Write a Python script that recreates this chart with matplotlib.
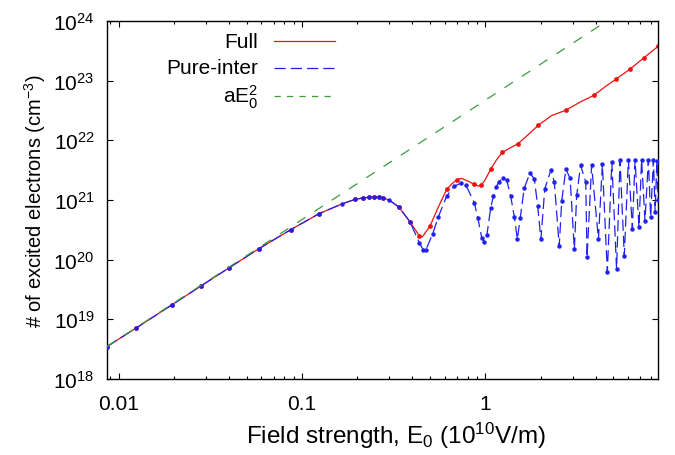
import matplotlib
matplotlib.use("Agg")
import matplotlib.pyplot as plt
from matplotlib.lines import Line2D
from matplotlib.ticker import LogLocator, NullFormatter, FixedLocator, FixedFormatter

plt.rcParams['font.family'] = ['Liberation Sans', 'DejaVu Sans']
plt.rcParams['mathtext.fontset'] = 'custom'
plt.rcParams['mathtext.rm'] = 'Liberation Sans'
plt.rcParams['mathtext.it'] = 'Liberation Sans:italic'
plt.rcParams['mathtext.default'] = 'regular'

# field strength (1e10 V/m) and excited electron density (cm^-3)
full_x = [0.00863, 0.0124, 0.0195, 0.028, 0.040, 0.058, 0.087, 0.124, 0.165, 0.194,
          0.214, 0.231, 0.248, 0.262, 0.276, 0.30, 0.338, 0.388, 0.437, 0.453,
          0.499, 0.555, 0.615, 0.66, 0.703, 0.743, 0.81, 0.871, 0.91, 0.948,
          1.0, 1.07, 1.15, 1.24, 1.37, 1.51, 1.72, 1.95, 2.3, 2.75,
          3.3, 3.92, 4.5, 5.16, 6.17, 7.31, 8.75]
full_y = [3.5e18, 7.1e18, 1.75e19, 3.6e19, 7.3e19, 1.52e20, 3.2e20, 5.9e20, 8.6e20, 1.02e21,
          1.08e21, 1.11e21, 1.13e21, 1.12e21, 1.09e21, 9.9e20, 7.6e20, 4.3e20, 2.5e20, 2.4e20,
          3.65e20, 7.7e20, 1.5e21, 1.9e21, 2.2e21, 2.3e21, 2.05e21, 1.82e21, 1.72e21, 1.75e21,
          2.2e21, 3.3e21, 4.7e21, 6.3e21, 7.5e21, 8.8e21, 1.26e22, 1.8e22, 2.6e22, 3.2e22,
          4.4e22, 5.7e22, 7.9e22, 1.06e23, 1.57e23, 2.4e23, 3.76e23]
full_dots = [0, 1, 2, 3, 4, 5, 6, 7, 9, 10, 11, 12, 13, 14, 16, 17, 18, 20, 22, 24,
             27, 29, 31, 33, 35, 37, 39, 41, 43, 44, 45, 46]

pure_x = [0.00863, 0.0124, 0.0195, 0.028, 0.040, 0.058, 0.087, 0.124, 0.165, 0.194,
          0.214, 0.231, 0.248, 0.262, 0.276, 0.30, 0.338, 0.388, 0.437, 0.459,
          0.474, 0.516, 0.554, 0.615, 0.675, 0.736, 0.785, 0.871, 0.91, 0.955,
          0.988, 1.02, 1.07, 1.106, 1.144, 1.19, 1.244, 1.31, 1.375, 1.44,
          1.495, 1.55, 1.63, 1.75, 1.85, 1.93, 2.01, 2.11, 2.28, 2.38,
          2.53, 2.61, 2.75, 2.90, 3.06, 3.15, 3.31, 3.53, 3.59, 3.80,
          4.14, 4.35, 4.63, 4.90, 5.20, 5.43, 5.73, 6.03, 6.34, 6.56,
          6.89, 7.12, 7.43, 7.75, 7.98, 8.26, 8.44, 8.63, 8.75]
pure_y = [3.5e18, 7.1e18, 1.75e19, 3.6e19, 7.3e19, 1.52e20, 3.2e20, 5.9e20, 8.6e20, 1.02e21,
          1.08e21, 1.11e21, 1.13e21, 1.12e21, 1.09e21, 9.9e20, 7.6e20, 4.3e20, 1.9e20, 1.46e20,
          1.47e20, 2.7e20, 5.2e20, 1.16e21, 1.69e21, 1.92e21, 1.75e21, 9.0e20, 5.0e20, 2.35e20,
          1.97e20, 2.6e20, 7.4e20, 1.16e21, 1.64e21, 2.04e21, 2.33e21, 2.13e21, 1.16e21, 5.2e20,
          2.2e20, 5.0e20, 1.58e21, 2.8e21, 2.27e21, 8.0e20, 2.2e20, 1.54e21, 3.2e21, 1.98e21,
          1.68e20, 9.5e20, 3.3e21, 2.3e21, 1.5e20, 1.19e21, 3.8e21, 2.0e21, 1.1e20, 3.8e21,
          2.2e20, 4.0e21, 6.2e19, 4.3e21, 7.0e19, 4.6e21, 1.17e20, 4.7e21, 3.3e20, 4.7e21,
          3.5e20, 4.7e21, 4.5e20, 4.7e21, 5.2e20, 4.7e21, 6.3e20, 4.5e21, 1.0e21]

# aE0^2 reference line
quad_x = [0.00863, 0.01, 0.1, 1.0, 4.6, 10.0]
quad_y = [3.5e18, 4.7e18, 4.7e20, 4.7e22, 1.0e24, 4.7e24]

xticks = [0.01, 0.1, 1]
xticklabels = ['0.01', '0.1', '1']
yticks = [1e18, 1e19, 1e20, 1e21, 1e22, 1e23, 1e24]

fig = plt.figure(figsize=(6.75, 4.56), dpi=100)
ax = fig.add_axes([107 / 675, 1 - 380 / 456, 551 / 675, 358 / 456])

red = '#f01010'
blue = '#2020f0'
green = '#3c9c3c'

ax.plot(full_x, full_y, color=red, lw=0.9, marker='o', ms=2.4, markevery=full_dots, zorder=2)
ax.plot(pure_x, pure_y, color=blue, lw=0.9, dashes=(9, 4), marker='o', ms=2.2, zorder=3)
ax.plot(quad_x, quad_y, color=green, lw=0.9, dashes=(8, 8.5), zorder=4)

ax.set_xscale('log')
ax.set_yscale('log')
ax.set_xlim(0.00863, 8.75)
ax.set_ylim(1e18, 1e24)

ax.xaxis.set_major_locator(FixedLocator(xticks))
ax.xaxis.set_major_formatter(FixedFormatter(xticklabels))
ax.xaxis.set_minor_locator(LogLocator(base=10, subs=range(2, 10), numticks=20))
ax.xaxis.set_minor_formatter(NullFormatter())
ax.yaxis.set_major_locator(FixedLocator(yticks))
ax.yaxis.set_minor_locator(plt.NullLocator())

ax.tick_params(which='both', direction='in', top=True, right=True, labelsize=15, width=0.8)
ax.tick_params(which='major', length=4.5)
ax.tick_params(which='minor', length=2.2)
ax.tick_params(axis='x', pad=11)
ax.tick_params(axis='y', pad=9)
for s in ax.spines.values():
    s.set_linewidth(1.0)

ax.set_xlabel('Field strength, E$_0$ (10$^{10}$V/m)', fontsize=17.5)
ax.xaxis.set_label_coords(0.525, -0.115)
ax.set_ylabel('# of excited electrons (cm$^{-3}$)', fontsize=14.5, labelpad=4)

# gnuplot style key: right aligned text, sample line after it
labels = ['Full', 'Pure-inter', 'aE$_0^2$']
styles = [dict(color=red, lw=0.9), dict(color=blue, lw=0.9, dashes=(9, 4)),
          dict(color=green, lw=0.9, dashes=(5, 5))]
rows = [42, 69, 97]
for lab, st, r in zip(labels, styles, rows):
    yf = 1 - r / 456
    fig.text(258 / 675, yf, lab, ha='right', va='center', fontsize=15)
    fig.add_artist(Line2D([274 / 675, 335 / 675], [yf, yf], transform=fig.transFigure, **st))

fig.savefig('out.png', dpi=100)
